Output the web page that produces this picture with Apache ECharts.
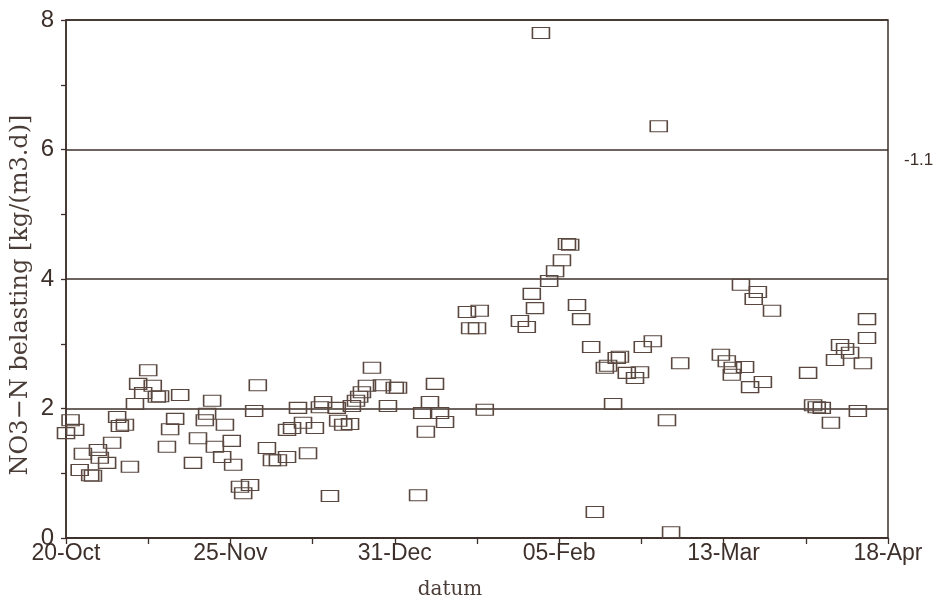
<!DOCTYPE html>
<html>
<head>
<meta charset="utf-8">
<script src="https://cdn.jsdelivr.net/npm/echarts@6/dist/echarts.min.js"></script>
<style>html,body{margin:0;padding:0;background:#fff}#c{width:935px;height:600px}</style>
</head>
<body>
<div id="c"></div>
<script>
// x: days since 20-Oct ; y: NO3-N belasting
const tickLabels = ['20-Oct', '25-Nov', '31-Dec', '05-Feb', '13-Mar', '18-Apr'];
const days = [
  0, 1, 2, 3, 3.7, 5.3, 5.9, 7, 7.4, 9, 10.1, 11.2, 11.8, 12.9, 14, 15.1, 15.8, 18, 16.9, 19,
  19.9, 20.6, 22.1, 22.8, 23.9, 25, 27.8, 28.9, 30.4, 30.9, 32, 32.6, 34.2, 34.8, 36.3, 36.6,
  38.1, 40.3, 38.8, 41.2, 42, 44, 45.1, 46.4, 48.4, 48.4, 49.5, 50.8, 51.9, 53, 54.5, 55.6,
  56.3, 57.8, 59.3, 59.6, 60.7, 62.2, 62.6, 63.5, 64.2, 64.8, 65.9, 67, 69.2, 70.5, 72, 72.7,
  77.1, 78, 78.8, 79.7, 80.8, 81.9, 83, 87.8, 90.6, 88.5, 90, 91.7, 99.4, 100.9, 102, 102.7,
  104, 105.8, 107.1, 108.6, 109.7, 110.4, 111.9, 112.8, 115, 115.8, 118, 118.7, 119.8, 120.6,
  121.3, 122.8, 124.6, 125.7, 126.3, 128.5, 129.8, 131.6, 132.5, 134.5,
  143.4, 144.7, 146, 148.7, 145.8, 149.8, 152.6, 147.8, 151.5, 150.6, 154.6, 162.5, 163.6,
  164.4, 165.5, 167.5, 168.4, 169.5, 170.6, 171.7, 173.4, 174.5, 175.4, 175.4
];
const loads = [
  1.62, 1.82, 1.67, 1.05, 1.30, 0.97, 0.96, 1.36, 1.24, 1.16, 1.47, 1.87, 1.73, 1.75, 1.10, 2.07, 2.38, 2.59, 2.24, 2.35,
  2.18, 2.19, 1.41, 1.68, 1.84, 2.21, 1.16, 1.54, 1.82, 1.92, 2.12, 1.41, 1.25, 1.75, 1.50, 1.13,
  0.79, 0.82, 0.69, 1.96, 2.36, 1.39, 1.20, 1.20, 1.25, 1.67, 1.70, 2.01, 1.78, 1.31, 1.70, 2.02,
  2.10, 0.65, 2.01, 1.81, 1.75, 1.76, 2.04, 2.12, 2.18, 2.25, 2.35, 2.63, 2.36, 2.04, 2.32, 2.32,
  0.66, 1.93, 1.64, 2.10, 2.38, 1.93, 1.79, 3.49, 3.51, 3.24, 3.24, 1.98, 3.35, 3.26, 3.77, 3.55,
  7.80, 3.97, 4.12, 4.29, 4.54, 4.53, 3.60, 3.38, 2.95, 0.40, 2.63, 2.66, 2.07, 2.78,
  2.80, 2.55, 2.47, 2.56, 2.95, 3.04, 6.36, 1.82, 0.09, 2.70,
  2.83, 2.73, 2.63, 2.64, 2.52, 2.33, 2.41, 3.91, 3.80, 3.69, 3.51, 2.55, 2.05,
  2.02, 2.01, 1.78, 2.75, 2.98, 2.92, 2.86, 1.96, 2.70, 3.09, 3.38
];
const yTicks = [0, 2, 4, 6, 8];
const sideNote = '-1.1';
const yTitle = 'NO3\u2212N belasting [kg/(m3.d)]';
const xTitle = 'datum';

const ink = '#3d2f2a';
const pts = days.map((d, i) => [d, loads[i]]);

const chart = echarts.init(document.getElementById('c'), null, {renderer: 'canvas'});
chart.setOption({
  animation: false,
  backgroundColor: '#ffffff',
  grid: {left: 66, right: 47, top: 20, bottom: 62, show: true, borderColor: ink, borderWidth: 1.5, backgroundColor: 'transparent'},
  graphic: [
    {type: 'text', left: 904, top: 152,
     style: {text: sideNote, fontFamily: 'Liberation Sans', fontSize: 17, fill: ink}},
    {type: 'text', x: 9, y: 295, rotation: Math.PI / 2,
     style: {text: yTitle, fontFamily: 'DejaVu Serif', fontSize: 24, fill: '#4a3c37',
             textAlign: 'center', textVerticalAlign: 'top'}},
    {type: 'text', x: 450, y: 590,
     style: {text: xTitle, fontFamily: 'DejaVu Serif', fontSize: 20, fill: '#4a3c37',
             textAlign: 'center', textVerticalAlign: 'middle'}}
  ],
  xAxis: {
    type: 'value', min: 0, max: 180, interval: 36,
    axisLine: {show: true, lineStyle: {color: ink, width: 1.5}},
    axisTick: {show: true, length: 6, inside: false, lineStyle: {color: ink, width: 1.3}},
    minorTick: {show: true, splitNumber: 2, length: 6, lineStyle: {color: ink, width: 1.3}},
    splitLine: {show: false},
    axisLabel: {
      fontFamily: 'Liberation Sans', fontSize: 23, color: ink, margin: 4,
      formatter: v => tickLabels[Math.round(v / 36)] || ''
    }
  },
  yAxis: {
    type: 'value', min: 0, max: 8, interval: 2,
    axisLine: {show: true, lineStyle: {color: ink, width: 1.5}},
    axisTick: {show: true, length: 5, lineStyle: {color: ink, width: 1.3}},
    minorTick: {show: true, splitNumber: 2, length: 5, lineStyle: {color: ink, width: 1.3}},
    splitLine: {show: true, lineStyle: {color: ink, width: 1.5}},
    axisLabel: {
      fontFamily: 'Liberation Sans', fontSize: 24, color: ink, margin: 12,
      formatter: v => (yTicks.indexOf(v) >= 0 ? String(v) : '')
    }
  },
  series: [{
    type: 'scatter',
    data: pts,
    symbol: 'rect',
    symbolSize: [17, 11],
    itemStyle: {color: 'rgba(255,255,255,0)', borderColor: '#5a4840', borderWidth: 1.3, opacity: 1},
    emphasis: {disabled: true}
  }]
});
</script>
</body>
</html>
